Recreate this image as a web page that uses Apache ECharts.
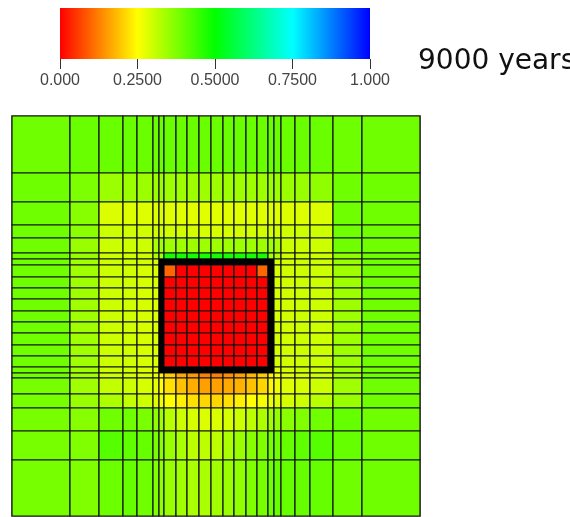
<!DOCTYPE html>
<html>
<head>
<meta charset="utf-8">
<script src="https://cdn.jsdelivr.net/npm/echarts@6/dist/echarts.min.js"></script>
<style>html,body{margin:0;padding:0;background:#fff;}#c{width:570px;height:517px;}</style>
</head>
<body>
<div id="c"></div>
<script>
// Colour scale
const scaleColors = ['#ff0000', '#ffff00', '#00ff00', '#00ffff', '#0000ff'];
const tickValues = [0, 0.25, 0.5, 0.75, 1];
const tickLabels = ['0.000', '0.2500', '0.5000', '0.7500', '1.000'];
const timeLabel = '9000 years';

// Mesh edges (mesh units)
const xEdges = [0, 58, 87, 111, 125, 141, 147, 152, 164, 175, 187, 199, 211, 222, 234, 245, 256, 262, 269, 283, 298, 321, 350, 408];
const yEdges = [0, 57, 86, 109, 122, 137, 143, 149, 161, 172, 183, 195, 206, 217, 229, 240, 251, 257, 262, 278, 292, 315, 344, 400];

// Block ring (column / row indices of the border cells)
const ringCols = [6, 16];
const ringRows = [6, 16];

// Cell values, row by row from top
const cellValues = [
  [0.39,0.396,0.396,0.396,0.396,0.396,0.396, 0.396,0.396,0.396,0.396,0.396,0.396,0.396,0.396,0.396, 0.396,0.396,0.396,0.396,0.396,0.392,0.39],
  [0.392,0.378,0.347,0.347,0.347,0.347,0.347, 0.345,0.345,0.345,0.345,0.345,0.345,0.345,0.345,0.345, 0.347,0.347,0.347,0.35,0.36,0.392,0.392],
  [0.39,0.367,0.285,0.283,0.283,0.283,0.283, 0.28,0.28,0.278,0.278,0.278,0.278,0.28,0.28,0.28, 0.283,0.283,0.283,0.283,0.285,0.39,0.39],
  [0.39,0.365,0.30,0.297,0.297,0.297,0.297, 0.295,0.295,0.293,0.29,0.29,0.29,0.293,0.295,0.295, 0.297,0.297,0.297,0.30,0.30,0.39,0.39],
  [0.39,0.35,0.30,0.30,0.30,0.333,0.343, 0.345,0.345,0.345,0.345,0.345,0.345,0.345,0.345,0.345, 0.343,0.333,0.30,0.30,0.30,0.39,0.39],
  [0.39,0.35,0.30,0.30,0.30,0.333,0.343, 0.478,0.478,0.478,0.478,0.478,0.478,0.478,0.478,0.478, 0.343,0.333,0.30,0.30,0.30,0.36,0.39],
  [0.39,0.343,0.30,0.30,0.295,0.29,0, 0,0,0,0,0,0,0,0,0, 0,0.29,0.295,0.30,0.30,0.35,0.39],
  [0.39,0.343,0.30,0.297,0.29,0.283,0, 0.1,0,0,0,0,0,0,0,0.1, 0,0.29,0.295,0.30,0.30,0.345,0.39],
  [0.39,0.343,0.30,0.297,0.29,0.283,0, 0,0,0,0,0,0,0,0,0, 0,0.29,0.295,0.30,0.30,0.345,0.39],
  [0.39,0.343,0.30,0.297,0.29,0.283,0, 0,0,0,0,0,0,0,0,0, 0,0.29,0.295,0.30,0.30,0.345,0.39],
  [0.39,0.343,0.30,0.297,0.29,0.283,0, 0,0,0,0,0,0,0,0,0, 0,0.29,0.295,0.30,0.30,0.345,0.39],
  [0.39,0.343,0.30,0.297,0.29,0.283,0, 0,0,0,0,0,0,0,0,0, 0,0.29,0.295,0.30,0.30,0.345,0.39],
  [0.39,0.343,0.30,0.297,0.29,0.283,0, 0,0,0,0,0,0,0,0,0, 0,0.29,0.295,0.30,0.30,0.345,0.39],
  [0.39,0.343,0.30,0.297,0.29,0.283,0, 0,0,0,0,0,0,0,0,0, 0,0.29,0.295,0.30,0.30,0.345,0.39],
  [0.39,0.343,0.30,0.297,0.29,0.283,0, 0,0,0,0,0,0,0,0,0, 0,0.29,0.295,0.30,0.30,0.345,0.39],
  [0.39,0.343,0.30,0.297,0.29,0.283,0, 0,0,0,0,0,0,0,0,0, 0,0.29,0.295,0.30,0.30,0.345,0.39],
  [0.39,0.343,0.30,0.295,0.285,0.275,0, 0,0,0,0,0,0,0,0,0, 0,0.28,0.29,0.30,0.30,0.345,0.39],
  [0.39,0.343,0.30,0.295,0.285,0.27,0.24, 0.2,0.167,0.15,0.125,0.125,0.14,0.157,0.18,0.2, 0.235,0.26,0.28,0.29,0.30,0.343,0.39],
  [0.383,0.343,0.31,0.30,0.29,0.275,0.25, 0.22,0.19,0.17,0.157,0.157,0.165,0.175,0.19,0.21, 0.24,0.265,0.28,0.29,0.30,0.343,0.39],
  [0.383,0.35,0.33,0.31,0.30,0.283,0.267, 0.25,0.234,0.22,0.21,0.21,0.22,0.234,0.25,0.26, 0.27,0.28,0.29,0.30,0.32,0.35,0.39],
  [0.383,0.367,0.39,0.39,0.38,0.36,0.345, 0.32,0.30,0.29,0.285,0.285,0.29,0.30,0.315,0.33, 0.34,0.355,0.365,0.375,0.39,0.40,0.39],
  [0.383,0.375,0.417,0.406,0.40,0.383,0.367, 0.35,0.333,0.317,0.317,0.317,0.333,0.35,0.367,0.375, 0.383,0.39,0.40,0.406,0.417,0.40,0.39],
  [0.383,0.375,0.394,0.40,0.39,0.375,0.359, 0.35,0.343,0.333,0.333,0.343,0.35,0.359,0.375,0.383, 0.39,0.40,0.40,0.40,0.40,0.39,0.39]
];

const cellData = [];
cellValues.forEach(function (row, r) {
  row.forEach(function (v, c) { cellData.push([c, r, v]); });
});

// Ring pieces: [c0, c1, r0, r1] in edge indices
const ringData = [
  [ringCols[0], ringCols[1] + 1, ringRows[0], ringRows[0] + 1],
  [ringCols[0], ringCols[1] + 1, ringRows[1], ringRows[1] + 1],
  [ringCols[0], ringCols[0] + 1, ringRows[0], ringRows[1] + 1],
  [ringCols[1], ringCols[1] + 1, ringRows[0], ringRows[1] + 1]
];

const chart = echarts.init(document.getElementById('c'));

function rectFrom(api, x0, x1, y0, y1) {
  const p0 = api.coord([x0, y0]);
  const p1 = api.coord([x1, y1]);
  return {
    x: Math.min(p0[0], p1[0]), y: Math.min(p0[1], p1[1]),
    width: Math.abs(p1[0] - p0[0]), height: Math.abs(p1[1] - p0[1])
  };
}

const option = {
  animation: false,
  backgroundColor: '#ffffff',
  grid: [
    { left: 12, top: 116, width: 408, height: 400, show: true, borderColor: '#555', borderWidth: 1.5, backgroundColor: 'transparent' },
    { left: 60, top: 8, width: 310, height: 51 }
  ],
  xAxis: [
    { gridIndex: 0, type: 'value', min: 0, max: xEdges[xEdges.length - 1], show: false },
    { gridIndex: 1, type: 'value', min: 0, max: 1, interval: 0.25, position: 'bottom',
      axisLine: { show: false }, splitLine: { show: false },
      axisTick: { show: true, length: 10, lineStyle: { color: '#333', width: 1 } },
      axisLabel: { margin: 14, fontSize: 16, color: '#444', fontFamily: 'Liberation Sans',
        formatter: function (v) { const i = tickValues.indexOf(v); return i >= 0 ? tickLabels[i] : ''; } } }
  ],
  yAxis: [
    { gridIndex: 0, type: 'value', min: 0, max: yEdges[yEdges.length - 1], inverse: true, show: false },
    { gridIndex: 1, type: 'value', min: 0, max: 1, show: false }
  ],
  visualMap: {
    show: false, type: 'continuous', min: 0, max: 1, dimension: 2, seriesIndex: 0,
    inRange: { color: scaleColors }
  },
  graphic: [
    { type: 'text', left: 418, top: 48, style: { text: timeLabel, fontSize: 28, fontFamily: 'DejaVu Sans', fill: '#111' } }
  ],
  series: [
    {
      type: 'custom', xAxisIndex: 0, yAxisIndex: 0, data: cellData,
      encode: { x: 0, y: 1 },
      renderItem: function (params, api) {
        const c = api.value(0), r = api.value(1);
        return { type: 'rect', shape: rectFrom(api, xEdges[c], xEdges[c + 1], yEdges[r], yEdges[r + 1]),
          style: { fill: api.visual('color'), stroke: '#151515', lineWidth: 1.2 } };
      }
    },
    {
      type: 'custom', xAxisIndex: 0, yAxisIndex: 0, data: ringData,
      encode: { x: 0, y: 2 },
      renderItem: function (params, api) {
        const d = ringData[params.dataIndex];
        return { type: 'rect', shape: rectFrom(api, xEdges[d[0]], xEdges[d[1]], yEdges[d[2]], yEdges[d[3]]),
          style: { fill: '#000' } };
      }
    },
    {
      type: 'custom', xAxisIndex: 1, yAxisIndex: 1, data: [[0, 0, 1, 1]],
      renderItem: function (params, api) {
        const stops = scaleColors.map(function (col, i) { return { offset: tickValues[i], color: col }; });
        return { type: 'rect', shape: rectFrom(api, 0, 1, 0, 1),
          style: { fill: new echarts.graphic.LinearGradient(0, 0, 1, 0, stops) } };
      }
    }
  ]
};
chart.setOption(option);
</script>
</body>
</html>
